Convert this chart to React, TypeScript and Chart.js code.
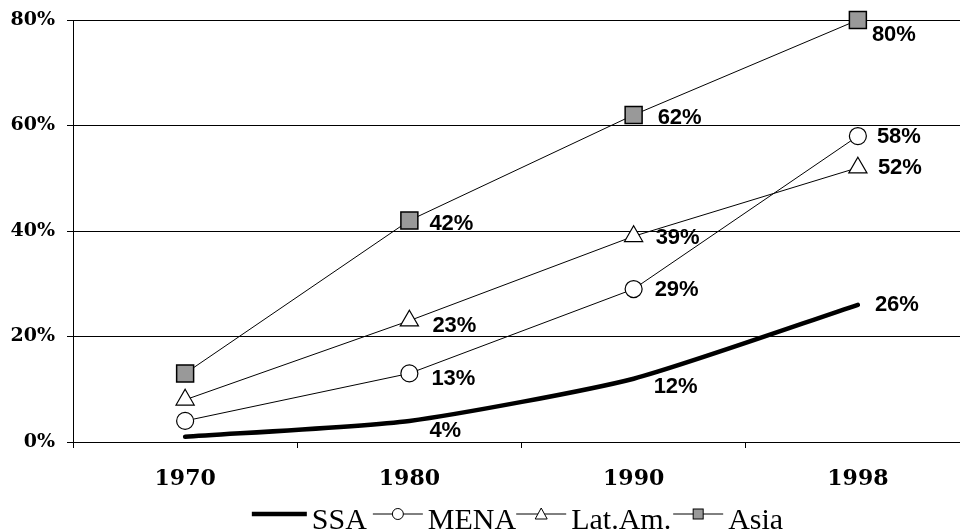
import React, { useEffect, useRef } from "react";
import { Chart, registerables } from "chart.js";

Chart.register(...registerables);

const years = ["1970", "1980", "1990", "1998"];
const ssa = [1, 4, 12, 26];
const mena = [4, 13, 29, 58];
const latAm = [8, 23, 39, 52];
const asia = [13, 42, 62, 80];
const seriesNames = ["SSA", "MENA", "Lat.Am.", "Asia"];
const yTicks = [0, 20, 40, 60, 80];

// label offsets (style): [dx, dy] per point, per series
const labelOffsets = [
  [null, [20, 10], [20, 8], [17, 0]],
  [null, [22, 6], [21, 1], [19, 1]],
  [null, [23, 5], [22, 2], [20, 0]],
  [null, [20, 3], [24, 3], [14, 15]],
];

const dataLabelsPlugin = {
  id: "dataLabelsCustom",
  afterDatasetsDraw(chart: any) {
    const ctx = chart.ctx;
    ctx.save();
    ctx.font = "bold 22px 'Liberation Sans', Arial, sans-serif";
    ctx.fillStyle = "#000";
    ctx.textAlign = "left";
    ctx.textBaseline = "middle";
    chart.data.datasets.forEach((ds: any, i: number) => {
      const meta = chart.getDatasetMeta(i);
      meta.data.forEach((pt: any, j: number) => {
        const off = labelOffsets[i][j];
        if (!off) return;
        ctx.fillText(ds.data[j] + "%", pt.x + off[0], pt.y + off[1]);
      });
    });
    ctx.restore();
  },
};

const legendPlugin = {
  id: "legendCustom",
  afterDraw(chart: any) {
    const ctx = chart.ctx;
    const area = chart.chartArea;
    ctx.save();
    ctx.font = "30px 'Liberation Serif', 'Times New Roman', serif";
    const sampleLens = [55, 50, 50, 50];
    const gapBefore = 5;
    const gapAfter = [6, 0, 2, 0];
    let total = 0;
    seriesNames.forEach((n, i) => {
      total += sampleLens[i] + gapBefore + ctx.measureText(n).width + gapAfter[i];
    });
    const cx = (area.left + area.right) / 2 - 4;
    let x = cx - total / 2;
    const yLine = 514;
    const yText = 529;
    seriesNames.forEach((n, i) => {
      const L = sampleLens[i];
      ctx.strokeStyle = "#000";
      ctx.lineWidth = i === 0 ? 4.5 : 1;
      ctx.beginPath();
      ctx.moveTo(x, yLine);
      ctx.lineTo(x + L, yLine);
      ctx.stroke();
      const mx = x + L / 2;
      ctx.lineWidth = 1;
      if (i === 1) {
        ctx.fillStyle = "#fff";
        ctx.beginPath();
        ctx.arc(mx, yLine, 5.5, 0, Math.PI * 2);
        ctx.fill();
        ctx.stroke();
      } else if (i === 2) {
        ctx.fillStyle = "#fff";
        ctx.beginPath();
        ctx.moveTo(mx, yLine - 6);
        ctx.lineTo(mx + 6, yLine + 5);
        ctx.lineTo(mx - 6, yLine + 5);
        ctx.closePath();
        ctx.fill();
        ctx.stroke();
      } else if (i === 3) {
        ctx.fillStyle = "#999999";
        ctx.fillRect(mx - 5, yLine - 5, 10, 10);
        ctx.strokeRect(mx - 5, yLine - 5, 10, 10);
      }
      x += L + gapBefore;
      ctx.fillStyle = "#000";
      ctx.textAlign = "left";
      ctx.textBaseline = "alphabetic";
      ctx.fillText(n, x, yText);
      x += ctx.measureText(n).width + gapAfter[i];
    });
    ctx.restore();
  },
};

export default function App() {
  const ref = useRef<HTMLCanvasElement | null>(null);
  useEffect(() => {
    if (!ref.current) return;
    const chart = new Chart(ref.current, {
      type: "line",
      data: {
        labels: years,
        datasets: [
          {
            label: seriesNames[0],
            data: ssa,
            borderColor: "#000",
            borderWidth: 4.5,
            pointRadius: 0,
            tension: 0.2,
            borderCapStyle: "round",
            clip: false,
          },
          {
            label: seriesNames[1],
            data: mena,
            borderColor: "#000",
            borderWidth: 1,
            pointStyle: "circle",
            pointRadius: 8.5,
            pointBackgroundColor: "#fff",
            pointBorderColor: "#000",
            pointBorderWidth: 1.2,
            clip: false,
          },
          {
            label: seriesNames[2],
            data: latAm,
            borderColor: "#000",
            borderWidth: 1,
            pointStyle: "triangle",
            pointRadius: 10.5,
            pointBackgroundColor: "#fff",
            pointBorderColor: "#000",
            pointBorderWidth: 1.2,
            clip: false,
          },
          {
            label: seriesNames[3],
            data: asia,
            borderColor: "#000",
            borderWidth: 1,
            pointStyle: "rect",
            pointRadius: 12,
            pointBackgroundColor: "#999999",
            pointBorderColor: "#000",
            pointBorderWidth: 1.5,
            clip: false,
          },
        ],
      },
      options: {
        animation: false,
        responsive: true,
        maintainAspectRatio: false,
        layout: { autoPadding: false, padding: { top: 20, right: 10, left: 0, bottom: 0 } },
        plugins: { legend: { display: false }, tooltip: { enabled: false } },
        scales: {
          x: {
            offset: true,
            grid: {
              offset: true,
              drawOnChartArea: false,
              drawTicks: true,
              tickLength: 6,
              color: "#000",
            },
            border: { display: true, color: "#000", width: 1 },
            ticks: {
              color: "#000",
              padding: 18,
              font: { family: "'DejaVu Serif', serif", size: 22, weight: "bold" },
              maxRotation: 0,
            },
            afterFit(scale: any) {
              scale.height = 90;
            },
          },
          y: {
            min: 0,
            max: 80,
            afterBuildTicks(scale: any) {
              scale.ticks = yTicks.map((v) => ({ value: v }));
            },
            grid: {
              color: "#000",
              lineWidth: 1,
              drawTicks: true,
              tickLength: 6,
            },
            border: { display: true, color: "#000", width: 1 },
            ticks: {
              color: "#000",
              padding: 12,
              font: { family: "'DejaVu Serif', serif", size: 19, weight: "bold", lineHeight: 0.8 },
              callback: (v: any) => v + "%",
            },
            afterFit(scale: any) {
              scale.width = 73;
            },
          },
        },
      },
      plugins: [dataLabelsPlugin, legendPlugin],
    });
    return () => chart.destroy();
  }, []);
  return (
    <div
      style={{
        position: "fixed",
        left: 0,
        top: 0,
        width: 960,
        height: 532,
        overflow: "hidden",
        background: "#fff",
      }}
    >
      <div style={{ position: "relative", width: 980, height: 532 }}>
        <canvas ref={ref} />
      </div>
    </div>
  );
}
